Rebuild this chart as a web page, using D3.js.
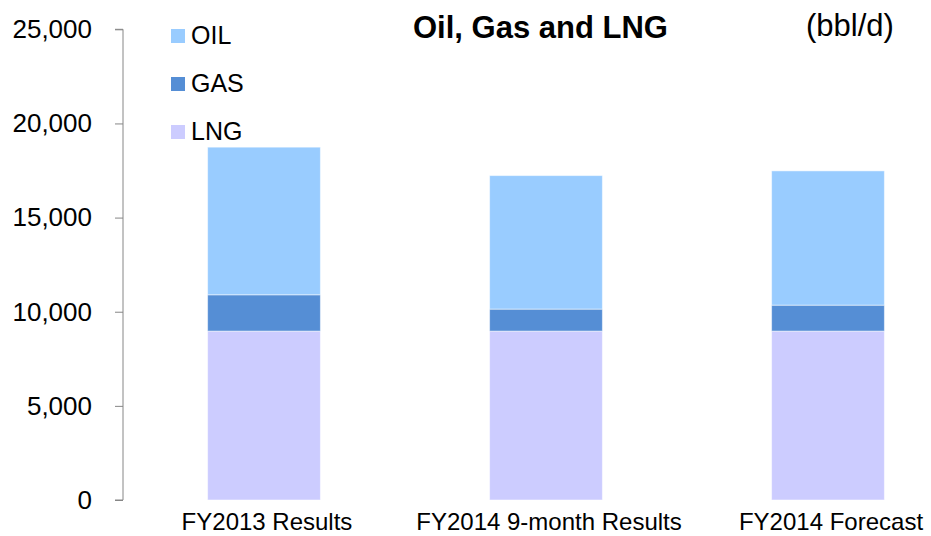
<!DOCTYPE html>
<html lang="en">
<head>
<meta charset="utf-8">
<title>Oil, Gas and LNG</title>
<script src="https://d3js.org/d3.v7.min.js"></script>
<style>
  body { margin: 0; background: #fff; }
  svg text { font-family: "Liberation Sans", Arial, sans-serif; fill: #000; }
</style>
</head>
<body>
<svg width="931" height="536"></svg>
<script>
// data
var categories = ["FY2013 Results", "FY2014 9-month Results", "FY2014 Forecast"]
var lng = [8970, 8970, 8970]
var gas = [1930, 1170, 1380]
var oil = [7840, 7090, 7130]
var seriesNames = ["LNG", "GAS", "OIL"]
var legendNames = ["OIL", "GAS", "LNG"]
var yTicks = [0, 5000, 10000, 15000, 20000, 25000]

var colors = {OIL: "#99ccff", GAS: "#558ed5", LNG: "#ccccff"}

var rows = categories.map(function (c, i) {
  return {cat: c, LNG: lng[i], GAS: gas[i], OIL: oil[i]}
})

var svg = d3.select("svg")

var x = d3.scaleBand().domain(categories).range([123, 969]).paddingInner(0.6).paddingOuter(0.3)
var y = d3.scaleLinear().domain([0, 25000]).range([500, 29.3])

var stack = d3.stack().keys(seriesNames)(rows)

// bars
svg.append("g").selectAll("g")
  .data(stack)
  .enter()
  .append("g")
  .attr("fill", function (d) { return colors[d.key] })
  .selectAll("rect")
  .data(function (d) { return d })
  .enter()
  .append("rect")
  .attr("x", function (d) { return x(d.data.cat) })
  .attr("width", x.bandwidth())
  .attr("y", function (d) { return y(d[1]) })
  .attr("height", function (d) { return y(d[0]) - y(d[1]) })
  .attr("stroke", "#ffffff")
  .attr("stroke-opacity", 0.5)
  .attr("stroke-width", 1)

// y axis
var yAxis = svg.append("g")
  .attr("transform", "translate(123,0)")
  .call(d3.axisLeft(y).tickValues(yTicks).tickSize(8).tickPadding(23).tickFormat(d3.format(",")))
yAxis.select(".domain").attr("stroke", "#868686").attr("d", "M-8," + y(25000) + "H0V" + y(0) + "H-8")
yAxis.selectAll(".tick line").attr("stroke", "#868686")
yAxis.selectAll(".tick text").style("font-size", "26px").attr("fill", "#000")

// category labels
svg.append("g").selectAll("text")
  .data(categories)
  .enter()
  .append("text")
  .attr("x", function (d) { return x(d) + x.bandwidth() / 2 + 3 })
  .attr("y", 530)
  .attr("text-anchor", "middle")
  .style("font-size", "24px")
  .text(function (d) { return d })

// legend
var legend = svg.append("g").selectAll("g")
  .data(legendNames)
  .enter()
  .append("g")
  .attr("transform", function (d, i) { return "translate(171," + (29 + i * 48) + ")" })
legend.append("rect")
  .attr("width", 14).attr("height", 14)
  .attr("fill", function (d) { return colors[d] })
legend.append("text")
  .attr("x", 20).attr("y", 15)
  .style("font-size", "25px")
  .text(function (d) { return d })

// title and unit
svg.append("text")
  .attr("x", 413).attr("y", 38)
  .style("font-size", "31px").style("font-weight", "bold")
  .text("Oil, Gas and LNG")
svg.append("text")
  .attr("x", 806).attr("y", 36)
  .style("font-size", "31px")
  .text("(bbl/d)")
</script>
</body>
</html>
